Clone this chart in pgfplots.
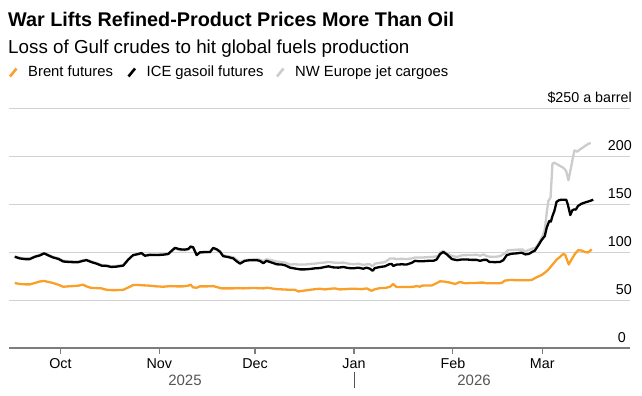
\documentclass[border=0pt]{standalone}
\usepackage{fontspec}
\setmainfont{Liberation Sans}
\usepackage{pgfplots}
\pgfplotsset{compat=1.18}
\definecolor{brent}{RGB}{250,160,40}
\definecolor{jet}{RGB}{204,204,204}
\definecolor{gridc}{RGB}{210,210,210}
\definecolor{axisc}{RGB}{125,125,125}
\definecolor{yearc}{RGB}{85,85,85}
\begin{document}
\begin{tikzpicture}
\useasboundingbox (0,0) rectangle (642bp,-396bp);
% titles
\node[anchor=base west, inner sep=0] at (8bp,-26bp) {\fontsize{19.8bp}{24bp}\selectfont\bfseries War Lifts Refined-Product Prices More Than Oil};
\node[anchor=base west, inner sep=0] at (8bp,-53bp) {\fontsize{18.8bp}{22bp}\selectfont Loss of Gulf crudes to hit global fuels production};
% legend
\draw[brent, line width=2.6bp] (10bp,-76.5bp) -- (16.5bp,-68.5bp);
\node[anchor=base west, inner sep=0] at (28bp,-76.5bp) {\fontsize{14.8bp}{17bp}\selectfont Brent futures};
\draw[black, line width=2.6bp] (128.5bp,-76.5bp) -- (135bp,-68.5bp);
\node[anchor=base west, inner sep=0] at (146.5bp,-76.5bp) {\fontsize{14.8bp}{17bp}\selectfont ICE gasoil futures};
\draw[jet, line width=2.6bp] (277bp,-76.5bp) -- (283.5bp,-68.5bp);
\node[anchor=base west, inner sep=0] at (295bp,-76.5bp) {\fontsize{14.8bp}{17bp}\selectfont NW Europe jet cargoes};
\begin{axis}[
  at={(9bp,-348bp)}, anchor=south west,
  scale only axis, width=621bp, height=240bp,
  xmin=-16.1, xmax=178.5, ymin=0, ymax=250,
  axis x line*=bottom, axis y line*=right,
  x axis line style={draw=axisc, line width=1.4bp},
  y axis line style={draw=none},
  xtick={0,31,61,92,123,151},
  xticklabels={Oct,Nov,Dec,Jan,Feb,Mar},
  x tick style={draw=axisc, line width=1.2bp},
  major tick length=6bp, tick align=outside,
  xticklabel style={anchor=base, font=\fontsize{14.3bp}{17bp}\selectfont, yshift=-14bp},
  ytick={50,100,150,200,250},
  yticklabels={50,100,150,200,{\$250 a barrel}},
  y tick style={draw=none},
  yticklabel style={anchor=base east, font=\fontsize{14.3bp}{17bp}\selectfont, xshift=-4bp, yshift=6bp, inner sep=0pt},
  ymajorgrids, grid style={draw=gridc, line width=1bp},
  /pgf/number format/assume math mode=true,
  clip=false,
]
% Brent
\addplot[brent, line width=2.3bp, line join=round] coordinates {
(-14.3,67.7)(-12.7,66.7)(-11.1,66.3)(-9.6,66.3)(-8.0,67.7)(-6.7,69.1)(-5.1,69.9)(-3.8,68.8)(-2.3,67.7)(-0.7,66.0)
(0.9,63.8)(2.4,64.2)(4.0,64.5)(5.6,64.9)(7.1,66.0)(8.2,64.2)(9.8,62.4)(11.3,62.4)(12.9,62.1)(14.5,60.6)
(16.0,60.3)(17.6,60.3)(19.7,60.6)(21.3,63.1)(22.8,65.6)(24.4,65.6)(26.5,65.2)(28.1,64.9)(30.2,64.2)(32.2,63.8)
(34.5,64.5)(36.4,64.2)(38.5,64.2)(40.1,64.9)(40.8,66.0)(41.6,63.1)(42.7,62.8)(43.7,64.2)(46.0,64.2)(47.9,64.5)
(49.0,63.5)(50.5,62.1)(52.6,62.1)(54.2,62.1)(55.7,62.4)(57.3,62.1)(59.4,62.4)(61.5,62.4)(63.6,62.1)(64.6,62.8)
(66.2,62.1)(67.8,61.3)(69.9,61.0)(72.0,60.6)(73.5,60.6)(74.6,58.9)(76.0,59.6)(78.2,60.6)(79.8,61.3)(81.3,61.7)
(82.9,61.0)(84.5,61.7)(86.0,62.1)(87.6,61.0)(89.2,61.3)(90.7,61.7)(92.3,61.7)(94.4,61.3)(96.0,62.1)(97.5,59.6)
(98.6,61.3)(100.2,62.4)(101.7,62.4)(103.3,63.8)(104.3,66.7)(104.8,64.9)(105.4,63.5)(107.0,63.5)(109.1,63.5)(110.6,63.8)
(111.7,64.5)(112.7,63.8)(113.2,64.9)(114.8,65.2)(116.4,65.2)(117.4,66.7)(119.0,69.5)(120.5,69.1)(122.1,68.1)(123.7,66.7)
(125.2,68.8)(126.8,67.4)(128.4,67.7)(130.0,67.7)(131.5,68.1)(132.6,68.1)(133.6,67.4)(135.2,67.4)(136.7,67.4)(138.3,67.7)
(139.3,70.2)(140.9,70.9)(143.0,70.6)(145.1,70.6)(146.7,70.6)(147.7,70.9)(149.3,73.8)(150.9,76.2)(151.9,78.7)(152.7,81.0)
(153.5,84.0)(154.5,88.0)(155.5,92.0)(156.6,95.0)(157.6,98.0)(158.2,97.0)(159.3,87.0)(160.2,92.4)(161.3,98.3)(162.3,102.0)
(163.4,101.5)(164.4,100.0)(165.4,99.5)(166.5,102.8)
};
% Jet
\addplot[jet, line width=2.3bp, line join=round] coordinates {
(-14.3,95.5)(-12.7,94.0)(-11.1,93.3)(-9.6,93.3)(-8.0,95.5)(-6.4,97.0)(-5.1,98.8)(-3.8,97.0)(-2.3,95.0)(-0.7,93.5)
(0.9,91.0)(2.4,90.5)(4.0,90.2)(5.6,90.0)(7.1,91.5)(8.2,92.0)(9.8,90.0)(11.3,88.5)(12.9,86.5)(14.5,86.0)
(16.0,85.2)(17.6,85.5)(19.7,86.5)(21.3,92.5)(22.8,96.5)(24.4,97.5)(25.4,98.5)(26.5,96.5)(28.1,97.5)(30.2,97.2)
(32.2,97.5)(33.8,98.0)(34.9,100.8)(35.9,103.5)(37.5,102.0)(39.0,101.8)(40.1,102.5)(40.8,104.8)(41.6,104.2)(42.7,97.0)
(43.7,99.2)(45.3,99.5)(46.9,99.8)(47.9,103.5)(49.0,102.2)(50.0,100.2)(51.0,96.5)(52.6,95.5)(54.2,94.5)(55.2,92.0)
(56.3,89.5)(57.8,91.5)(59.4,92.2)(61.5,92.5)(62.5,92.0)(63.6,90.5)(64.6,92.5)(66.2,91.5)(67.8,90.0)(69.4,89.5)
(70.4,89.0)(72.0,87.0)(73.5,87.2)(75.1,86.9)(76.6,86.9)(78.2,87.6)(79.8,87.9)(81.3,88.7)(82.9,89.0)(84.0,89.7)
(85.5,89.0)(87.1,88.7)(88.7,89.0)(90.2,87.9)(91.8,87.2)(93.4,87.9)(94.9,86.5)(96.0,87.2)(97.0,87.2)(97.8,85.1)
(98.6,87.9)(100.2,88.7)(101.7,89.4)(103.3,93.3)(104.3,93.3)(105.4,92.6)(107.0,92.9)(108.5,92.6)(110.1,93.3)(111.1,94.3)
(112.2,94.3)(113.7,94.3)(115.3,94.7)(116.9,95.0)(118.4,95.7)(119.0,99.3)(120.0,101.1)(121.1,98.6)(122.7,95.7)(124.3,95.0)
(125.8,96.5)(127.4,96.8)(128.9,96.8)(130.5,97.2)(131.5,96.1)(132.6,97.5)(133.6,95.7)(134.7,95.0)(136.2,95.0)(137.8,95.7)
(139.3,98.6)(140.2,101.8)(141.7,102.1)(143.3,102.5)(144.9,102.5)(145.6,100.4)(146.7,102.1)(147.9,103.5)(148.9,104.5)(150.0,109.7)
(151.1,116.7)(151.8,123.6)(152.4,141.0)(152.9,153.1)(153.6,156.6)(154.2,192.0)(154.8,193.1)(155.7,191.3)(156.6,189.6)(157.6,187.8)
(158.5,184.4)(159.2,174.7)(160.0,187.8)(160.6,198.2)(161.1,205.9)(161.9,204.5)(162.9,207.0)(164.4,210.4)(165.5,212.8)(166.2,213.5)
};
% Gasoil
\addplot[black, line width=2.3bp, line join=round] coordinates {
(-14.3,95.0)(-12.7,93.3)(-11.1,92.6)(-9.6,92.6)(-8.0,95.0)(-6.4,96.5)(-5.1,98.6)(-3.8,96.5)(-2.3,94.3)(-0.7,92.9)
(0.9,90.1)(2.4,89.7)(4.0,89.4)(5.6,89.4)(7.1,90.8)(8.2,91.5)(9.8,89.4)(11.3,87.9)(12.9,85.8)(14.5,85.5)
(16.0,84.4)(17.6,84.8)(19.7,85.8)(21.3,92.2)(22.8,96.8)(24.4,97.9)(25.4,98.9)(26.5,96.1)(28.1,97.0)(30.2,96.8)
(32.2,97.2)(33.8,97.9)(34.9,101.4)(35.9,104.3)(37.5,102.8)(39.0,102.5)(40.1,103.2)(40.8,105.7)(41.6,105.0)(42.7,96.8)
(43.7,99.6)(45.3,100.0)(46.9,100.0)(47.9,104.3)(49.0,102.8)(50.0,100.4)(51.0,95.7)(52.6,94.7)(54.2,93.3)(55.2,90.4)
(56.3,87.9)(57.8,90.8)(59.4,91.5)(61.5,91.5)(62.5,90.8)(63.6,88.3)(64.6,90.8)(66.2,89.0)(67.8,87.2)(69.4,86.9)
(70.4,86.2)(72.0,83.7)(73.5,82.8)(75.1,81.9)(76.6,81.9)(78.2,82.3)(79.8,83.0)(81.3,83.3)(82.9,84.4)(84.0,85.1)
(85.5,84.0)(87.1,83.7)(88.7,84.4)(90.2,83.3)(91.8,83.0)(93.4,83.7)(94.9,82.6)(96.0,83.7)(97.0,82.6)(97.8,80.5)
(98.6,83.3)(100.2,84.4)(101.7,85.1)(103.3,87.6)(103.8,87.6)(104.3,85.5)(105.4,86.9)(107.0,87.2)(108.5,86.9)(110.1,88.7)
(111.1,90.8)(112.2,90.4)(113.7,90.4)(115.3,90.8)(116.9,90.8)(117.9,92.2)(119.0,97.9)(120.0,100.0)(121.1,97.5)(122.7,92.6)
(124.3,91.5)(125.8,92.2)(127.4,92.2)(128.9,91.8)(130.5,91.8)(131.5,90.8)(132.6,91.8)(133.6,91.8)(134.4,89.7)(136.2,89.4)
(137.8,89.7)(138.8,91.5)(139.9,96.8)(141.4,98.2)(143.0,98.6)(144.5,99.3)(145.7,97.5)(146.8,98.0)(147.8,100.0)(148.7,101.5)
(149.7,106.5)(150.7,112.0)(151.8,116.7)(152.4,125.4)(153.2,132.3)(153.7,131.6)(154.2,137.5)(154.8,142.7)(155.5,152.4)(156.4,154.2)
(157.4,154.5)(158.5,154.5)(159.0,149.7)(159.8,138.5)(160.4,143.4)(161.0,144.4)(161.5,144.1)(162.2,147.9)(163.3,150.3)(164.9,152.1)
(165.9,153.1)(167.0,154.5)
};
\end{axis}
% zero label, year labels and separator
\node[anchor=base east, inner sep=0] at (626bp,-342bp) {\fontsize{14.3bp}{17bp}\selectfont 0};
\node[anchor=base, inner sep=0, text=yearc] at (185bp,-385bp) {\fontsize{15bp}{18bp}\selectfont 2025};
\node[anchor=base, inner sep=0, text=yearc] at (474bp,-385bp) {\fontsize{15bp}{18bp}\selectfont 2026};
\draw[yearc, line width=0.8bp] (354bp,-372bp) -- (354bp,-388bp);
\end{tikzpicture}
\end{document}
